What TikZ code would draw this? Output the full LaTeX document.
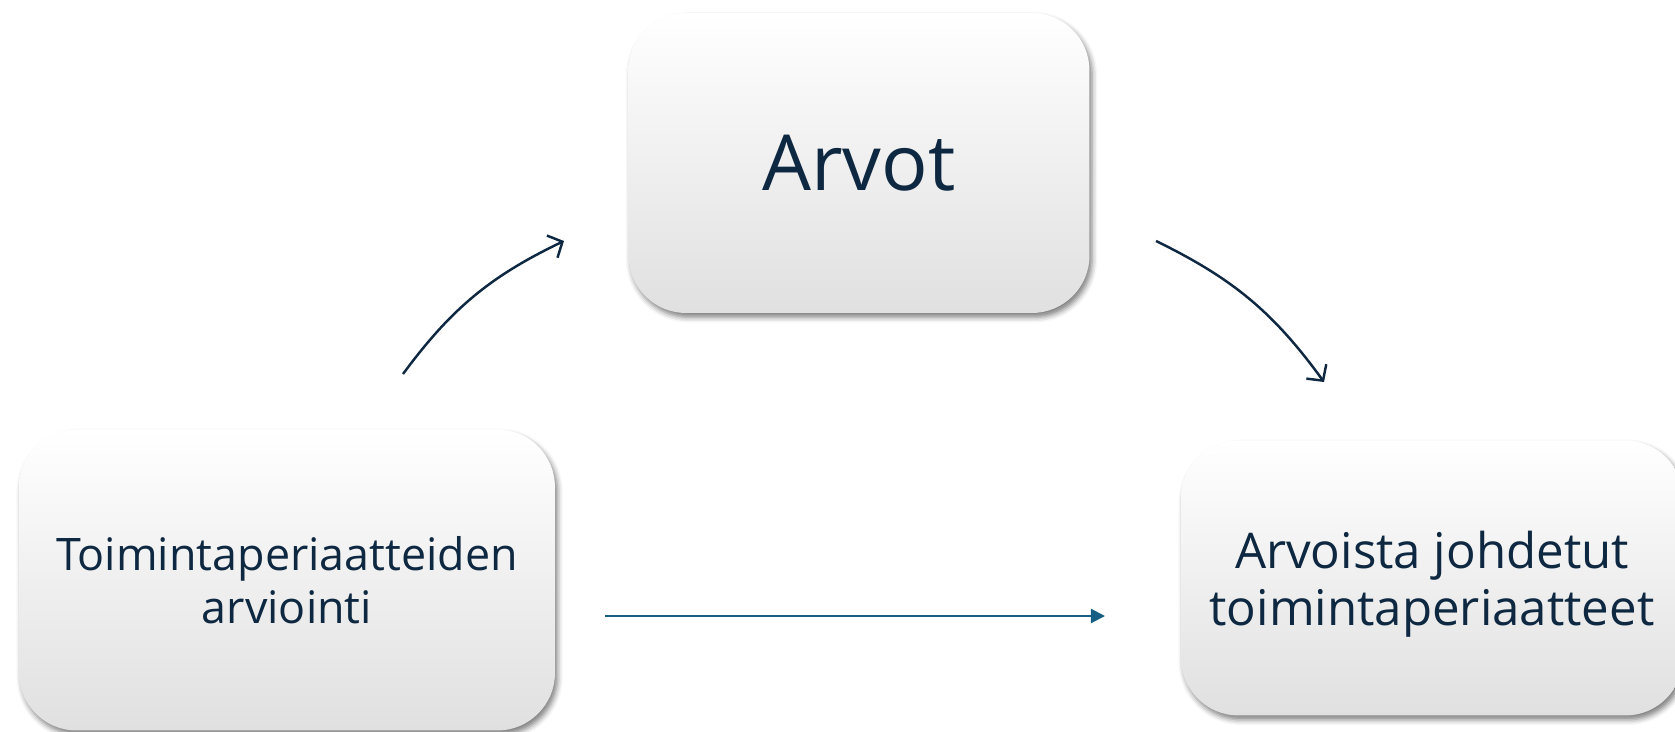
\documentclass[tikz,border=0pt]{standalone}
\usepackage{fontspec}
\setmainfont{Open Sans}
\usetikzlibrary{arrows.meta,shadows.blur}
\definecolor{navy}{HTML}{0E2841}
\definecolor{accentblue}{HTML}{156082}
\definecolor{boxgray}{HTML}{E0E0E0}
\tikzset{
  box/.style={rounded corners=1.15cm, top color=white, middle color=white,
    bottom color=boxgray, text=navy, align=center, inner sep=0pt,
    blur shadow={shadow xshift=1.5pt, shadow yshift=-2.5pt,
      shadow blur radius=3pt, shadow opacity=50}},
  bigtext/.style={font=\fontsize{44}{52}\selectfont},
  lefttext/.style={font=\fontsize{25.5}{30.5}\selectfont},
  righttext/.style={font=\fontsize{28}{32.5}\selectfont},
  curvearrow/.style={draw=navy, line width=1.4pt,
    -{Straight Barb[length=6.5pt,width=14pt,line width=1.4pt]}},
  flatarrow/.style={draw=accentblue, line width=1.2pt,
    -{Triangle[length=8pt,width=8pt]}}
}
\begin{document}
\begin{tikzpicture}[x=0.02cm,y=-0.02cm]
\path[use as bounding box] (0,0) rectangle (1675,732);
\node[box, bigtext, minimum width=9.22cm, minimum height=6cm] (arvot) at (859,163) {Arvot};
\node[box, lefttext, minimum width=10.72cm, minimum height=6.02cm] (arviointi) at (287,580) {Toimintaperiaatteiden\\arviointi};
\node[box, righttext, minimum width=10.04cm, minimum height=5.5cm] (johdetut) at (1432,578) {\rule{0pt}{28pt}Arvoista johdetut\\toimintaperiaatteet};
\coordinate (a1) at (403,374);
\coordinate (a2) at (564,241);
\coordinate (b1) at (1156,241);
\coordinate (b2) at (1324,382);
\coordinate (c1) at (605,616);
\coordinate (c2) at (1105,616);
\draw[curvearrow] (a1) to[bend left=14] (a2);
\draw[curvearrow] (b1) to[bend left=14] (b2);
\draw[flatarrow] (c1) -- (c2);
\end{tikzpicture}
\end{document}
